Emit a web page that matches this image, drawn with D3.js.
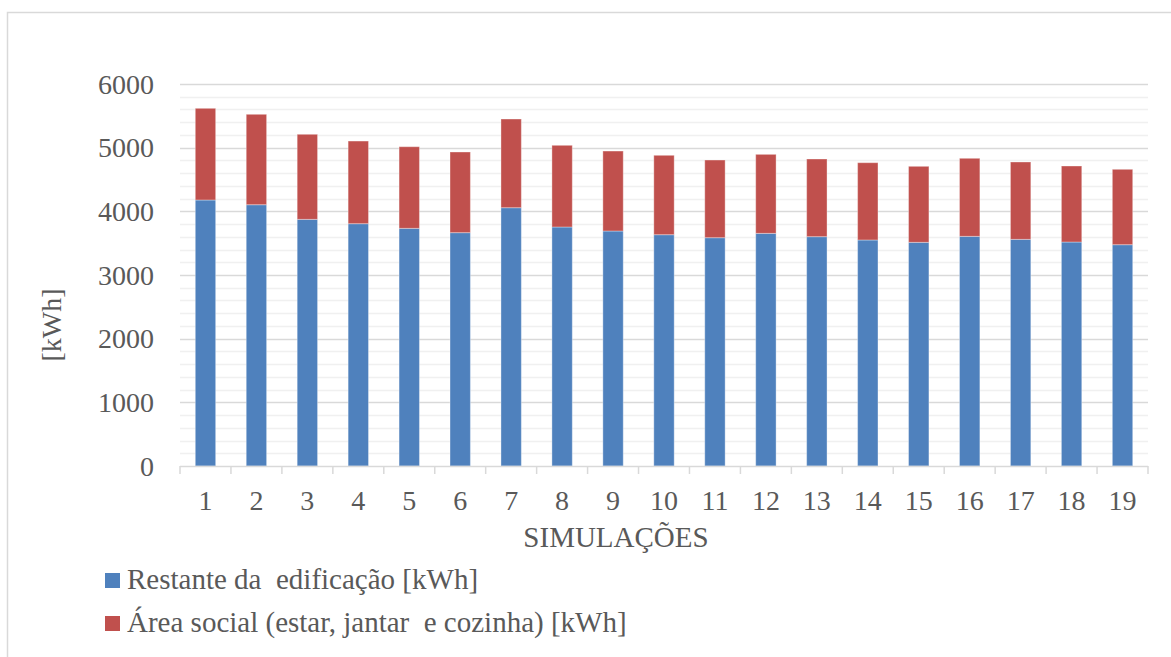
<!DOCTYPE html>
<html>
<head>
<meta charset="utf-8">
<script src="https://cdn.jsdelivr.net/npm/d3@7"></script>
<style>
  html, body { margin: 0; padding: 0; background: #fff; }
  svg { display: block; }
  text { font-family: "Liberation Serif", "Times New Roman", serif; fill: #595959; }
</style>
</head>
<body>
<svg id="chart" width="1171" height="657"></svg>
<script>
// Simulation numbers (x categories)
const simulacoes = ["1","2","3","4","5","6","7","8","9","10","11","12","13","14","15","16","17","18","19"];
// Rest of the building [kWh]
const restante = [4178, 4104, 3874, 3806, 3733, 3665, 4057, 3754, 3691, 3633, 3586, 3654, 3602, 3550, 3513, 3607, 3560, 3518, 3476];
// Social area (living, dining, kitchen) [kWh]
const areaSocial = [1440, 1420, 1336, 1298, 1282, 1267, 1393, 1283, 1256, 1247, 1220, 1241, 1220, 1214, 1194, 1226, 1215, 1194, 1184];
// Y axis tick values
const yTicks = [0, 1000, 2000, 3000, 4000, 5000, 6000];
const seriesNames = ["Restante da  edificação [kWh]", "Área social (estar, jantar  e cozinha) [kWh]"];
const seriesColors = ["#4F81BD", "#C0504D"];

const svg = d3.select("#chart");
const W = 1171, H = 657;
const plot = { left: 180, right: 1148, top: 84, bottom: 466 };

// Chart area frame
svg.append("rect")
  .attr("x", 7.5).attr("y", 12.5)
  .attr("width", 1200).attr("height", 700)
  .attr("fill", "none").attr("stroke", "#d9d9d9").attr("stroke-width", 1.5);

const x = d3.scaleBand()
  .domain(simulacoes)
  .range([plot.left, plot.right])
  .paddingInner(0.6)
  .paddingOuter(0.3);

const y = d3.scaleLinear().domain([0, 6000]).range([plot.bottom, plot.top]);

// Minor gridlines every 200, major every 1000
const minor = d3.range(200, 6001, 200).filter(v => v % 1000 !== 0);
svg.append("g").selectAll("line").data(minor).join("line")
  .attr("x1", plot.left).attr("x2", plot.right)
  .attr("y1", d => Math.round(y(d)) + 0.5).attr("y2", d => Math.round(y(d)) + 0.5)
  .attr("stroke", "#f0f0f0").attr("stroke-width", 1.5);
svg.append("g").selectAll("line").data(yTicks.filter(v => v > 0)).join("line")
  .attr("x1", plot.left).attr("x2", plot.right)
  .attr("y1", d => Math.round(y(d)) + 0.5).attr("y2", d => Math.round(y(d)) + 0.5)
  .attr("stroke", "#d9d9d9").attr("stroke-width", 1.5);

// Stacked bars
const rows = simulacoes.map((s, i) => ({ sim: s, restante: restante[i], social: areaSocial[i] }));
const stack = d3.stack().keys(["restante", "social"])(rows);

svg.append("g").selectAll("g").data(stack).join("g")
  .attr("fill", (d, i) => seriesColors[i])
  .selectAll("rect").data(d => d).join("rect")
  .attr("x", d => x(d.data.sim))
  .attr("y", d => y(d[1]))
  .attr("width", x.bandwidth())
  .attr("height", d => y(d[0]) - y(d[1]))
  .attr("stroke", "#ffffff").attr("stroke-opacity", 0.35).attr("stroke-width", 1);

// Category axis line with tick marks at band boundaries
const axisG = svg.append("g");
axisG.append("line")
  .attr("x1", plot.left).attr("x2", plot.right)
  .attr("y1", plot.bottom + 0.5).attr("y2", plot.bottom + 0.5)
  .attr("stroke", "#d9d9d9").attr("stroke-width", 1.5);
const step = x.step();
const boundaries = d3.range(simulacoes.length + 1).map(i => plot.left + i * step);
axisG.selectAll("line.tick").data(boundaries).join("line")
  .attr("class", "tick")
  .attr("x1", d => d).attr("x2", d => d)
  .attr("y1", plot.bottom).attr("y2", plot.bottom + 8)
  .attr("stroke", "#d9d9d9").attr("stroke-width", 1.5);

// Category labels
svg.append("g").selectAll("text").data(simulacoes).join("text")
  .attr("x", d => x(d) + x.bandwidth() / 2)
  .attr("y", 510)
  .attr("text-anchor", "middle")
  .attr("font-size", 28)
  .text(d => d);

// Value labels
svg.append("g").selectAll("text").data(yTicks).join("text")
  .attr("x", 154)
  .attr("y", d => y(d))
  .attr("dy", "0.34em")
  .attr("text-anchor", "end")
  .attr("font-size", 28)
  .text(d => d);

// Axis titles
svg.append("text")
  .attr("transform", "translate(61,325) rotate(-90)")
  .attr("text-anchor", "middle")
  .attr("font-size", 28)
  .text("[kWh]");

svg.append("text")
  .attr("x", 616).attr("y", 547)
  .attr("text-anchor", "middle")
  .attr("font-size", 29)
  .text("SIMULAÇÕES");

// Legend
const legend = svg.append("g").selectAll("g").data(seriesNames).join("g")
  .attr("transform", (d, i) => `translate(105,${589 + i * 43})`);
legend.append("rect")
  .attr("x", 0).attr("y", -16)
  .attr("width", 15).attr("height", 15)
  .attr("fill", (d, i) => seriesColors[i]);
legend.append("text")
  .attr("x", 22).attr("y", 0)
  .attr("font-size", 29)
  .attr("xml:space", "preserve")
  .style("white-space", "pre")
  .text(d => d);
</script>
</body>
</html>
